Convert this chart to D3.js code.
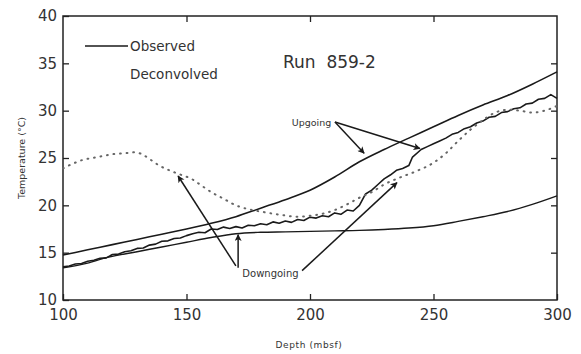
<!DOCTYPE html>
<html>
<head>
<meta charset="utf-8">
<script src="https://cdn.jsdelivr.net/npm/d3@7/dist/d3.min.js"></script>
<style>
  html, body { margin: 0; padding: 0; background: #fff; }
  svg { display: block; }
  text { font-family: "DejaVu Sans", sans-serif; fill: #333; }
</style>
</head>
<body>
<svg id="chart" width="581" height="354"></svg>
<script>
// Axis ticks
const xTicks = [100, 150, 200, 250, 300];
const yTicks = [10, 15, 20, 25, 30, 35, 40];

// Observed, upgoing (upper solid trace)
const obsUpDepth = [100, 110, 120, 130, 140, 150, 160, 170, 180, 190, 200, 210, 220, 230, 240, 250, 260, 270, 280, 290, 300];
const obsUpTemp  = [14.75, 15.3, 15.85, 16.4, 16.95, 17.5, 18.1, 18.8, 19.7, 20.6, 21.6, 23.0, 24.6, 25.9, 27.1, 28.3, 29.5, 30.6, 31.6, 32.8, 34.1];

// Observed, downgoing (lower solid trace)
const obsDownDepth = [100, 110, 118, 130, 140, 150, 160, 170, 180, 190, 200, 210, 220, 230, 240, 250, 260, 270, 280, 290, 300];
const obsDownTemp  = [13.4, 13.9, 14.5, 15.1, 15.6, 16.1, 16.6, 17.0, 17.15, 17.2, 17.25, 17.3, 17.35, 17.45, 17.6, 17.85, 18.3, 18.8, 19.35, 20.1, 21.0];

// Deconvolved, upgoing (jagged trace)
const decUpDepth = [100, 102.5, 105, 107.5, 110, 112.5, 115, 117.5, 120, 122.5, 125, 127.5, 130, 132.5, 135, 137.5, 140, 142.5, 145, 147.5,
  150, 152.5, 155, 157.5, 160, 162.5, 165, 167.5, 170, 172.5, 175, 177.5, 180, 182.5, 185, 187.5, 190, 192.5, 195, 197.5,
  200, 202.5, 205, 207.5, 210, 212.5, 215, 217.5, 220, 222.5, 225, 227.5, 230, 232.5, 235, 237.5, 240, 241.5, 245, 247.5,
  250, 252.5, 255, 257.5, 260, 262.5, 265, 267.5, 270, 272.5, 275, 277.5, 280, 282.5, 285, 287.5, 290, 292.5, 295, 297.5, 300];
const decUpTemp = [13.5, 13.6, 13.8, 13.85, 14.1, 14.2, 14.4, 14.45, 14.8, 14.85, 15.1, 15.2, 15.45, 15.5, 15.8, 15.9, 16.2, 16.25, 16.5, 16.55,
  16.8, 17.0, 17.15, 17.1, 17.5, 17.45, 17.7, 17.55, 17.75, 17.6, 17.9, 17.85, 18.05, 17.95, 18.25, 18.1, 18.35, 18.2, 18.5, 18.4,
  18.75, 18.65, 18.9, 18.8, 19.2, 19.05, 19.5, 19.4, 20.0, 21.2, 21.6, 22.2, 22.8, 23.2, 23.7, 23.9, 24.2, 25.1, 25.9, 26.2,
  26.5, 26.8, 27.1, 27.5, 27.7, 28.1, 28.3, 28.7, 28.9, 29.3, 29.4, 29.8, 29.9, 30.2, 30.3, 30.7, 30.8, 31.2, 31.3, 31.7, 31.3];

// Deconvolved, downgoing (dotted trace)
const decDownDepth = [100, 104, 108, 112, 116, 120, 125, 129, 132, 135, 139, 144, 148, 152, 156, 160, 165, 170, 175, 181, 188, 195,
  200, 205, 210, 215, 220, 225, 230, 236, 243, 250, 255, 260, 265, 270, 275, 280, 285, 290, 295, 300];
const decDownTemp = [23.9, 24.4, 24.8, 25.0, 25.2, 25.4, 25.5, 25.6, 25.4, 24.9, 24.2, 23.6, 23.2, 22.8, 22.1, 21.4, 20.7, 20.0, 19.6, 19.3, 19.0, 18.8,
  18.9, 19.1, 19.5, 20.1, 20.8, 21.4, 22.2, 22.9, 23.6, 24.5, 25.5, 26.8, 28.0, 29.0, 29.8, 30.1, 30.0, 29.8, 30.0, 30.5];

// Annotation arrows: [startDepth, startTemp, tipDepth, tipTemp]
const upArrows = [[210.1, 28.8, 221.9, 25.5], [210.1, 28.8, 244.5, 26.0]];
const downArrows = [[170.0, 13.6, 146.6, 23.1], [170.9, 13.4, 170.9, 16.9], [196.8, 13.1, 235.2, 22.4]];

const W = 581, H = 354;
const margin = { top: 16, right: 24, bottom: 54, left: 63 };
const iw = W - margin.left - margin.right;
const ih = H - margin.top - margin.bottom;

const svg = d3.select("#chart");
const g = svg.append("g").attr("transform", `translate(${margin.left},${margin.top})`);

const x = d3.scaleLinear().domain([100, 300]).range([0, iw]);
const y = d3.scaleLinear().domain([10, 40]).range([ih, 0]);

// Arrowhead
svg.append("defs").append("marker")
  .attr("id", "head").attr("viewBox", "0 0 10 10")
  .attr("refX", 9).attr("refY", 5)
  .attr("markerWidth", 10).attr("markerHeight", 7)
  .attr("markerUnits", "userSpaceOnUse")
  .attr("orient", "auto")
  .append("path").attr("d", "M0,0 L10,5 L0,10 L2.5,5 Z").attr("fill", "#1a1a1a");

// Axes with inward ticks
const axisStyle = sel => {
  sel.select(".domain").remove();
  sel.selectAll(".tick line").attr("stroke", "#222").attr("stroke-width", 1.3);
};
g.append("g").attr("transform", `translate(0,${ih})`)
  .call(d3.axisBottom(x).tickValues(xTicks).tickSizeInner(-6).tickSizeOuter(0).tickPadding(9).tickFormat(d3.format("d")))
  .call(axisStyle)
  .selectAll("text").attr("font-size", 15).attr("font-family", "DejaVu Sans").attr("fill", "#3a3a3a");
g.append("g")
  .call(d3.axisLeft(y).tickValues(yTicks).tickSizeInner(-6).tickSizeOuter(0).tickPadding(6).tickFormat(d3.format("d")))
  .call(axisStyle)
  .selectAll("text").attr("font-size", 15).attr("font-family", "DejaVu Sans").attr("fill", "#3a3a3a");
g.append("g")
  .call(d3.axisTop(x).tickValues(xTicks.slice(1, -1)).tickSizeInner(-6).tickSizeOuter(0).tickFormat(""))
  .call(axisStyle);
g.append("g").attr("transform", `translate(${iw},0)`)
  .call(d3.axisRight(y).tickValues(yTicks.slice(1, -1)).tickSizeInner(-6).tickSizeOuter(0).tickFormat(""))
  .call(axisStyle);

// Frame
g.append("rect").attr("x", 0).attr("y", 0).attr("width", iw).attr("height", ih)
  .attr("fill", "none").attr("stroke", "#222").attr("stroke-width", 1.5);

// Traces
const toPts = (ds, ts) => ds.map((d, i) => [d, ts[i]]);
const smooth = d3.line().x(p => x(p[0])).y(p => y(p[1])).curve(d3.curveMonotoneX);
const jagged = d3.line().x(p => x(p[0])).y(p => y(p[1])).curve(d3.curveLinear);

g.append("path").attr("d", smooth(toPts(obsUpDepth, obsUpTemp)))
  .attr("fill", "none").attr("stroke", "#1a1a1a").attr("stroke-width", 1.6);
g.append("path").attr("d", smooth(toPts(obsDownDepth, obsDownTemp)))
  .attr("fill", "none").attr("stroke", "#1a1a1a").attr("stroke-width", 1.4);
g.append("path").attr("d", jagged(toPts(decUpDepth, decUpTemp)))
  .attr("fill", "none").attr("stroke", "#1a1a1a").attr("stroke-width", 1.6).attr("stroke-linejoin", "round");
g.append("path").attr("d", smooth(toPts(decDownDepth, decDownTemp)))
  .attr("fill", "none").attr("stroke", "#666").attr("stroke-width", 2)
  .attr("stroke-dasharray", "0.8 5.8").attr("stroke-linecap", "round");

// Arrows
[...upArrows, ...downArrows].forEach(a => {
  g.append("line")
    .attr("x1", x(a[0])).attr("y1", y(a[1]))
    .attr("x2", x(a[2])).attr("y2", y(a[3]))
    .attr("stroke", "#1a1a1a").attr("stroke-width", 1.5)
    .attr("marker-end", "url(#head)");
});

// Arrow labels
g.append("text").attr("x", x(208.6)).attr("y", y(28.4))
  .attr("text-anchor", "end").attr("font-size", 9.5).attr("fill", "#444").text("Upgoing");
g.append("text").attr("x", x(172.6)).attr("y", y(12.45))
  .attr("font-size", 10).attr("fill", "#444").text("Downgoing");

// Legend
g.append("line").attr("x1", 22).attr("x2", 65).attr("y1", 30).attr("y2", 30)
  .attr("stroke", "#1a1a1a").attr("stroke-width", 1.5);
g.append("text").attr("x", 67).attr("y", 35).attr("font-size", 13.5).attr("fill", "#333").text("Observed");
g.append("text").attr("x", 67).attr("y", 63).attr("font-size", 13.5).attr("fill", "#333").text("Deconvolved");

// Title
g.append("text").attr("x", 220).attr("y", 52).attr("font-size", 17).attr("fill", "#222")
  .style("white-space", "pre").text("Run  859-2");

// Axis titles
svg.append("text").attr("transform", `translate(25,${158}) rotate(-90)`)
  .attr("text-anchor", "middle").attr("font-size", 9.5).attr("fill", "#444").text("Temperature (°C)");
svg.append("text").attr("x", 309).attr("y", 348)
  .attr("text-anchor", "middle").attr("font-size", 9).attr("letter-spacing", 0.6).attr("fill", "#444").text("Depth (mbsf)");
</script>
</body>
</html>
